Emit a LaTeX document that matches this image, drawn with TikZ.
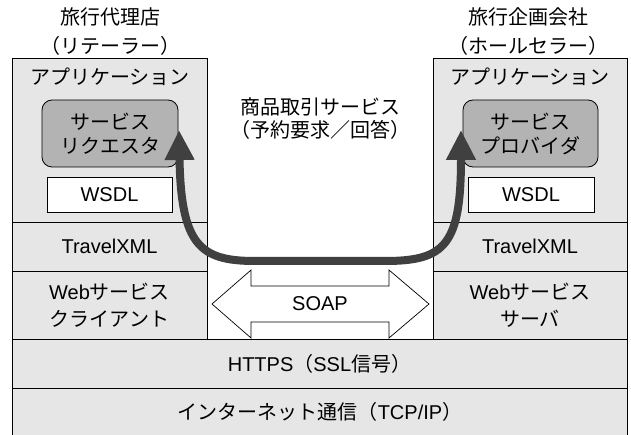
\documentclass[tikz,border=0pt]{standalone}
\usepackage{fontspec}
\setmainfont{Liberation Sans}
\newfontfamily\jpf{Noto Sans CJK JP}
\usetikzlibrary{arrows.meta}
\definecolor{layer}{HTML}{E6E6E6}
\definecolor{svc}{HTML}{B3B3B3}
\definecolor{arr}{HTML}{404040}
\begin{document}
\begin{tikzpicture}[x=1pt,y=-1pt,
  every node/.style={inner sep=0pt, outer sep=0pt},
  lbl/.style={align=center, font=\fontsize{20}{24}\selectfont},
  layerbox/.style={lbl, draw=black, line width=0.8pt, fill=layer, anchor=north west},
  svcbox/.style={lbl, draw=black, line width=0.8pt, fill=svc, rounded corners=10pt, anchor=north west},
  wsdlbox/.style={lbl, draw=black, line width=0.8pt, fill=white, anchor=north west},
  bigarrow/.style={draw=arr, line width=8pt, {Triangle[width=28pt,length=30pt]}-{Triangle[width=28pt,length=30pt]}},
  soapshape/.style={draw=black, line width=0.7pt, fill=white}
]
\useasboundingbox (0,0) rectangle (631,435);

% bottom layers
\node[layerbox, minimum width=615, minimum height=49] (https) at (12,339) {HTTPS{\jpf （}SSL{\jpf 信号）}};
\node[layerbox, minimum width=615, minimum height=49, anchor=north west] (inet) at (12,388) {};
\node[lbl] (inettxt) at (320,412) {{\jpf インターネット通信（}TCP/IP{\jpf ）}};

% left column
\node[layerbox, minimum width=195, minimum height=164] (lapp) at (12,58) {};
\node[lbl] (lapptxt) at (110,77) {\jpf アプリケーション};
\node[svcbox, minimum width=136, minimum height=67] (lreq) at (42,100) {\jpf サービス\\\jpf リクエスタ};
\node[wsdlbox, minimum width=125, minimum height=35] (lwsdl) at (47,177) {WSDL};
\node[layerbox, minimum width=195, minimum height=49] (ltxml) at (12,222) {TravelXML};
\node[layerbox, minimum width=195, minimum height=68, font=\fontsize{20}{27}\selectfont] (lweb) at (12,271) {Web{\jpf サービス}\\{\jpf クライアント}};

% right column
\node[layerbox, minimum width=194, minimum height=164] (rapp) at (433,58) {};
\node[lbl] (rapptxt) at (530,77) {\jpf アプリケーション};
\node[svcbox, minimum width=135, minimum height=67] (rprov) at (463,100) {\jpf サービス\\\jpf プロバイダ};
\node[wsdlbox, minimum width=126, minimum height=35] (rwsdl) at (468,177) {WSDL};
\node[layerbox, minimum width=194, minimum height=49] (rtxml) at (433,222) {TravelXML};
\node[layerbox, minimum width=194, minimum height=68, font=\fontsize{20}{27}\selectfont] (rweb) at (433,271) {Web{\jpf サービス}\\{\jpf サーバ}};

% titles
\node[lbl, font=\fontsize{20}{29}\selectfont] (ltitle) at (110,32) {\jpf 旅行代理店\\\jpf （リテーラー）};
\node[lbl, font=\fontsize{20}{29}\selectfont] (rtitle) at (528,32) {\jpf 旅行企画会社\\\jpf （ホールセラー）};
\node[lbl, font=\fontsize{20}{23}\selectfont] (mid) at (320,119) {\jpf 商品取引サービス\\\jpf （予約要求／回答）};

% big U arrow
\coordinate (ltip) at (179,130);
\coordinate (rtip) at (461,130);
\draw[bigarrow] (ltip) .. controls (181,245) and (200,261) .. (255,261) -- (385,261) .. controls (445,261) and (461,245) .. (rtip);

% SOAP double arrow
\draw[soapshape] (212,304) -- (251,270) -- (251,286) -- (389,286) -- (389,270) -- (429,304) -- (389,338) -- (389,322) -- (251,322) -- (251,338) -- cycle;
\node[lbl] (soap) at (320,304) {SOAP};
\end{tikzpicture}
\end{document}
